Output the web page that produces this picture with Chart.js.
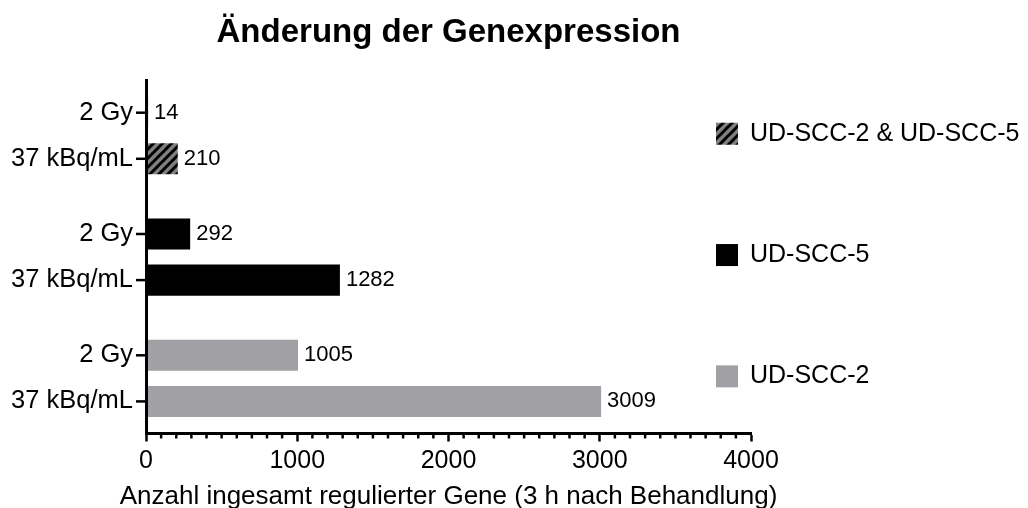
<!DOCTYPE html>
<html>
<head>
<meta charset="utf-8">
<script src="https://cdn.jsdelivr.net/npm/chart.js@4"></script>
<style>
  body { margin: 0; background: #fff; }
  #wrap { width: 1028px; height: 508px; position: relative; }
</style>
</head>
<body>
<div id="wrap"><canvas id="geneChart"></canvas></div>
<script>
// groups (cell lines), doses and counts
const groups = ['UD-SCC-2 & UD-SCC-5', 'UD-SCC-5', 'UD-SCC-2'];
const doses = ['2 Gy', '37 kBq/mL'];
const genes2Gy = [14, 292, 1005];
const genes37kBq = [210, 1282, 3009];
const xTicks = [0, 1000, 2000, 3000, 4000];
const xTitle = 'Anzahl ingesamt regulierter Gene (3 h nach Behandlung)';

const FONT = '"Liberation Sans", Arial, Helvetica, sans-serif';

// hatch pattern for the overlap group
function makeHatch() {
  const size = 9;
  const c = document.createElement('canvas');
  c.width = size; c.height = size;
  const g = c.getContext('2d');
  g.fillStyle = '#7f7f7f';
  g.fillRect(0, 0, size, size);
  g.strokeStyle = '#000';
  g.lineWidth = 3;
  g.beginPath();
  g.moveTo(0, size); g.lineTo(size, 0);
  g.moveTo(-size / 2, size / 2); g.lineTo(size / 2, -size / 2);
  g.moveTo(size / 2, size * 1.5); g.lineTo(size * 1.5, size / 2);
  g.stroke();
  return g.createPattern(c, 'repeat');
}

const hatch = makeHatch();
const groupColors = [hatch, '#000000', '#a1a0a5'];

// dose labels, small y ticks and value labels next to each bar
const barLabels = {
  id: 'barLabels',
  afterDatasetsDraw(chart) {
    const ctx = chart.ctx;
    const left = chart.chartArea.left;
    ctx.save();
    chart.data.datasets.forEach((ds, di) => {
      const meta = chart.getDatasetMeta(di);
      meta.data.forEach((bar, i) => {
        ctx.strokeStyle = '#000';
        ctx.lineWidth = 2.5;
        ctx.beginPath();
        ctx.moveTo(left - 10, bar.y);
        ctx.lineTo(left, bar.y);
        ctx.stroke();
        ctx.fillStyle = '#000';
        ctx.font = '25.5px ' + FONT;
        ctx.textAlign = 'right';
        ctx.textBaseline = 'middle';
        ctx.fillText(doses[di], left - 13, bar.y);
        ctx.font = '22px ' + FONT;
        ctx.textAlign = 'left';
        ctx.fillText(String(ds.data[i]), bar.x + 6, bar.y);
      });
    });
    ctx.restore();
  }
};

// minor ticks, x axis title (wider than the axis) and legend on the right
const extras = {
  id: 'extras',
  afterDraw(chart) {
    const ctx = chart.ctx;
    const xs = chart.scales.x;
    const ys = chart.scales.y;
    const area = chart.chartArea;
    ctx.save();
    ctx.strokeStyle = '#000';
    ctx.lineWidth = 2.5;
    for (let v = 100; v < 4000; v += 100) {
      if (v % 1000 === 0) continue;
      const px = xs.getPixelForValue(v);
      ctx.beginPath();
      ctx.moveTo(px, area.bottom);
      ctx.lineTo(px, area.bottom + 5);
      ctx.stroke();
    }
    ctx.fillStyle = '#000';
    ctx.font = '26px ' + FONT;
    ctx.textAlign = 'center';
    ctx.textBaseline = 'middle';
    ctx.fillText(xTitle, (area.left + area.right) / 2, xs.bottom + 15.5);

    ctx.font = '25px ' + FONT;
    ctx.textAlign = 'left';
    groups.forEach((name, i) => {
      const y = ys.getPixelForValue(i) - 2;
      ctx.fillStyle = groupColors[i];
      ctx.fillRect(716, y - 11, 22, 22);
      ctx.fillStyle = '#000';
      ctx.fillText(name, 750, y);
    });
    ctx.restore();
  }
};

new Chart(document.getElementById('geneChart'), {
  type: 'bar',
  data: {
    labels: groups,
    datasets: [
      { label: doses[0], data: genes2Gy, backgroundColor: groupColors },
      { label: doses[1], data: genes37kBq, backgroundColor: groupColors }
    ]
  },
  options: {
    indexAxis: 'y',
    responsive: true,
    maintainAspectRatio: false,
    animation: false,
    categoryPercentage: 0.76,
    barPercentage: 0.674,
    layout: { padding: { left: 146, right: 277, top: 0, bottom: 26.5 } },
    plugins: {
      legend: { display: false },
      tooltip: { enabled: false },
      title: {
        display: true,
        text: 'Änderung der Genexpression',
        fullSize: false,
        color: '#000',
        font: { family: FONT, size: 33, weight: 'bold', lineHeight: 1.2 },
        padding: { top: 13, bottom: 28 }
      }
    },
    scales: {
      x: {
        type: 'linear',
        min: 0,
        max: 4000,
        afterBuildTicks: (scale) => { scale.ticks = xTicks.map(v => ({ value: v })); },
        ticks: {
          color: '#000',
          padding: 5,
          maxRotation: 0,
          callback: (v) => String(v),
          font: { family: FONT, size: 25, lineHeight: 1.2 }
        },
        grid: { drawOnChartArea: false, drawTicks: true, tickLength: 8, tickWidth: 2.5, tickColor: '#000' },
        border: { display: true, color: '#000', width: 3, z: 1 },
        title: { display: false }
      },
      y: {
        type: 'category',
        offset: true,
        // groups sit a bit closer to the axis ends than a plain offset gives
        afterBuildTicks: (scale) => {
          const edge = 0.4545;
          scale._startValue = -edge;
          scale._valueRange = groups.length - 1 + 2 * edge;
        },
        ticks: { display: false },
        grid: { display: false, drawTicks: false },
        border: { display: true, color: '#000', width: 3, z: 1 }
      }
    }
  },
  plugins: [barLabels, extras]
});
</script>
</body>
</html>
